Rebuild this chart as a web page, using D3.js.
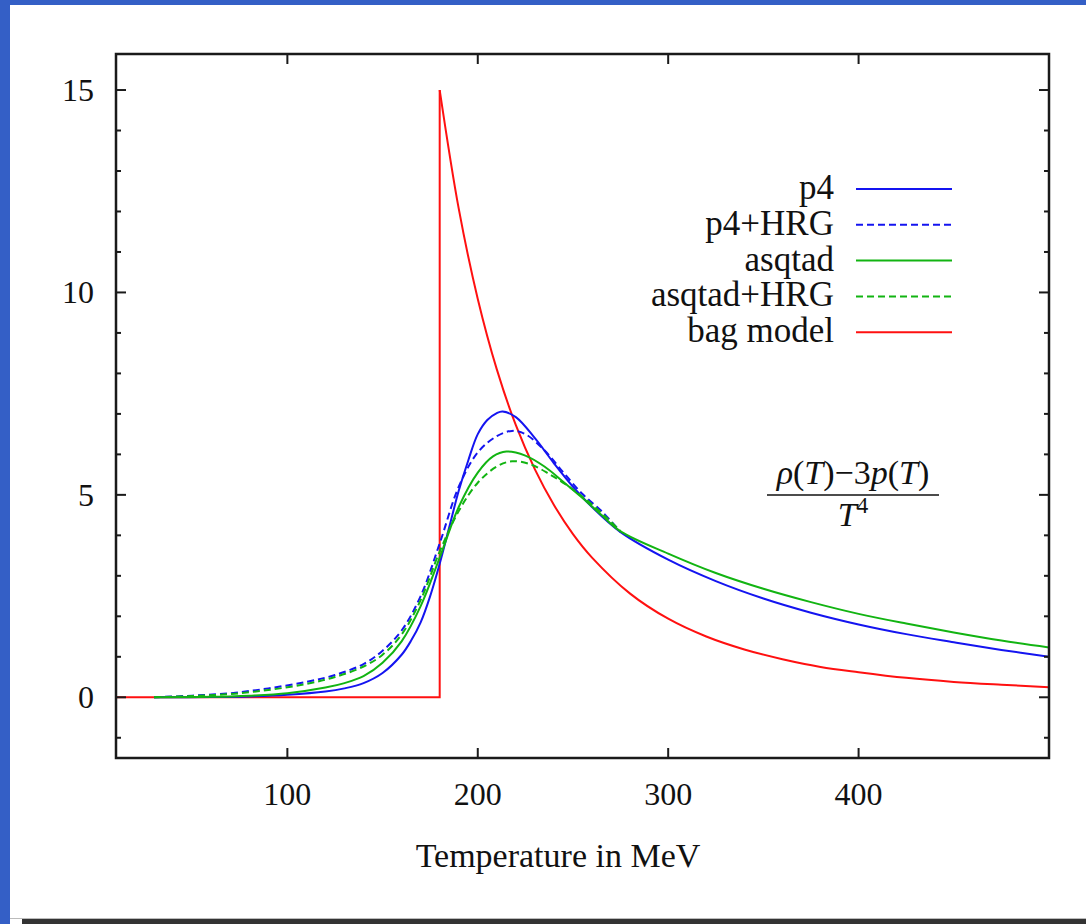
<!DOCTYPE html>
<html>
<head>
<meta charset="utf-8">
<script src="https://cdn.jsdelivr.net/npm/d3@7"></script>
<style>
  body { margin: 0; background: #fff; }
  text { font-family: "Liberation Serif", "DejaVu Serif", serif; fill: #111; }
</style>
</head>
<body>
<svg width="1086" height="924"></svg>
<script>
// temperatures (MeV) and curve values
let tempP4 = [30, 60, 80, 100, 120, 130, 140, 150, 160, 165, 170, 175, 180, 185, 190, 195, 200, 205, 210, 213, 220, 230, 240, 250, 260, 275, 300, 325, 350, 375, 400, 425, 450, 475, 500];
let p4     = [0, 0.005, 0.02, 0.06, 0.14, 0.22, 0.35, 0.6, 1.05, 1.4, 1.85, 2.5, 3.3, 4.2, 5.1, 5.85, 6.5, 6.85, 7.02, 7.06, 6.92, 6.4, 5.78, 5.2, 4.7, 4.08, 3.4, 2.87, 2.44, 2.09, 1.8, 1.56, 1.36, 1.17, 1.0];

let tempP4HRG = [30, 50, 70, 90, 110, 125, 140, 150, 160, 170, 180, 190, 200, 210, 218, 225, 235, 245, 255, 265, 275];
let p4HRG     = [0, 0.04, 0.1, 0.22, 0.38, 0.55, 0.82, 1.15, 1.65, 2.5, 3.8, 5.2, 6.05, 6.45, 6.58, 6.5, 6.1, 5.55, 5.02, 4.6, 4.08];

let tempAsq = [30, 60, 80, 100, 120, 130, 140, 150, 160, 170, 180, 190, 200, 208, 215, 225, 235, 245, 255, 265, 275, 300, 325, 350, 375, 400, 425, 450, 475, 500];
let asqtad  = [0, 0.01, 0.04, 0.1, 0.24, 0.35, 0.52, 0.85, 1.38, 2.25, 3.45, 4.7, 5.55, 5.95, 6.07, 5.97, 5.7, 5.32, 4.92, 4.5, 4.1, 3.55, 3.07, 2.68, 2.35, 2.06, 1.82, 1.6, 1.4, 1.23];

let tempAsqHRG = [30, 50, 70, 90, 110, 125, 140, 150, 160, 170, 180, 190, 200, 210, 218, 228, 238, 248, 258, 268, 275];
let asqtadHRG  = [0, 0.03, 0.08, 0.18, 0.33, 0.5, 0.76, 1.05, 1.55, 2.4, 3.6, 4.6, 5.3, 5.7, 5.83, 5.75, 5.5, 5.2, 4.84, 4.42, 4.1];

let tempBagLow = [10, 180, 180];
let bagLow     = [0, 0, 15];
let tempBag = [180, 190, 200, 210, 220, 230, 240, 250, 260, 280, 300, 320, 340, 360, 380, 400, 425, 450, 475, 500];
let bag     = [15.0, 12.07, 9.84, 8.1, 6.72, 5.63, 4.75, 4.03, 3.45, 2.56, 1.94, 1.5, 1.18, 0.94, 0.75, 0.62, 0.48, 0.38, 0.31, 0.25];

let xTicks = [100, 200, 300, 400];
let yTicks = [0, 5, 10, 15];
let yMinor = d3.range(-1, 16);

let legendNames = ["p4", "p4+HRG", "asqtad", "asqtad+HRG", "bag model"];

let svg = d3.select("svg");

// page frame
svg.append("rect").attr("x", 0).attr("y", 0).attr("width", 1086).attr("height", 924).attr("fill", "#fff");
svg.append("rect").attr("x", 0).attr("y", 0).attr("width", 1086).attr("height", 5).attr("fill", "#345fc6");
svg.append("rect").attr("x", 0).attr("y", 0).attr("width", 10).attr("height", 924).attr("fill", "#345fc6");
svg.append("rect").attr("x", 10).attr("y", 918).attr("width", 1076).attr("height", 1).attr("fill", "#bbb");
svg.append("rect").attr("x", 22).attr("y", 919).attr("width", 1064).attr("height", 5).attr("fill", "#333");

let margin = {left: 116, top: 54, right: 1049, bottom: 758};

let x = d3.scaleLinear().domain([10, 500]).range([margin.left, margin.right]);
let y = d3.scaleLinear().domain([-1.5, 15.89]).range([margin.bottom, margin.top]);

svg.append("clipPath").attr("id", "clip")
  .append("rect")
    .attr("x", margin.left).attr("y", margin.top)
    .attr("width", margin.right - margin.left).attr("height", margin.bottom - margin.top);

let smooth = d3.line().x(d => x(d[0])).y(d => y(d[1])).curve(d3.curveCatmullRom.alpha(0.5));
let straight = d3.line().x(d => x(d[0])).y(d => y(d[1]));

let zip = (a, b) => a.map((t, i) => [t, b[i]]);

let blue = "#1414f0", green = "#12b412", red = "#ff1010";

let series = [
  {pts: zip(tempP4, p4), color: blue, dash: null},
  {pts: zip(tempP4HRG, p4HRG), color: blue, dash: "7,4"},
  {pts: zip(tempAsq, asqtad), color: green, dash: null},
  {pts: zip(tempAsqHRG, asqtadHRG), color: green, dash: "7,4"},
];

let plot = svg.append("g").attr("clip-path", "url(#clip)");

plot.append("path")
    .attr("d", straight(zip(tempBagLow, bagLow)))
    .attr("fill", "none").attr("stroke", red).attr("stroke-width", 2);
plot.append("path")
    .attr("d", smooth(zip(tempBag, bag)))
    .attr("fill", "none").attr("stroke", red).attr("stroke-width", 2);

plot.selectAll(".curve")
  .data(series)
  .enter().append("path")
    .attr("class", "curve")
    .attr("d", d => smooth(d.pts))
    .attr("fill", "none")
    .attr("stroke", d => d.color)
    .attr("stroke-width", 2)
    .attr("stroke-dasharray", d => d.dash);

// axes: inward ticks on all four sides
let axisColor = "#1a1a1a";
let axes = svg.append("g").attr("stroke", axisColor).attr("stroke-width", 2);

xTicks.forEach(t => {
  axes.append("line").attr("x1", x(t)).attr("x2", x(t)).attr("y1", margin.bottom).attr("y2", margin.bottom - 10);
  axes.append("line").attr("x1", x(t)).attr("x2", x(t)).attr("y1", margin.top).attr("y2", margin.top + 10);
});
yMinor.forEach(t => {
  let len = yTicks.includes(t) ? 10 : 5;
  axes.append("line").attr("x1", margin.left).attr("x2", margin.left + len).attr("y1", y(t)).attr("y2", y(t));
  axes.append("line").attr("x1", margin.right).attr("x2", margin.right - len).attr("y1", y(t)).attr("y2", y(t));
});

svg.append("rect")
    .attr("x", margin.left).attr("y", margin.top)
    .attr("width", margin.right - margin.left).attr("height", margin.bottom - margin.top)
    .attr("fill", "none").attr("stroke", axisColor).attr("stroke-width", 2.5);

svg.selectAll(".xlab")
  .data(xTicks)
  .enter().append("text")
    .attr("class", "xlab")
    .attr("x", d => x(d))
    .attr("y", 805)
    .attr("text-anchor", "middle")
    .style("font-size", "32px")
    .text(d => d);

svg.selectAll(".ylab")
  .data(yTicks)
  .enter().append("text")
    .attr("class", "ylab")
    .attr("x", 94)
    .attr("y", d => y(d) + 11)
    .attr("text-anchor", "end")
    .style("font-size", "32px")
    .text(d => d);

svg.append("text")
    .attr("x", 558)
    .attr("y", 867)
    .attr("text-anchor", "middle")
    .style("font-size", "34px")
    .text("Temperature in MeV");

// legend
let legendStyles = [
  {color: blue, dash: null}, {color: blue, dash: "7,4"},
  {color: green, dash: null}, {color: green, dash: "7,4"},
  {color: red, dash: null}
];
let leg = svg.selectAll(".leg")
  .data(legendNames)
  .enter().append("g")
    .attr("class", "leg")
    .attr("transform", (d, i) => "translate(0," + (189 + i * 35.8) + ")");
leg.append("text")
    .attr("x", 834)
    .attr("y", 10)
    .attr("text-anchor", "end")
    .style("font-size", "35px")
    .text(d => d);
leg.append("line")
    .attr("x1", 856).attr("x2", 952)
    .attr("stroke", (d, i) => legendStyles[i].color)
    .attr("stroke-width", 2)
    .attr("stroke-dasharray", (d, i) => legendStyles[i].dash);

// formula label
let f = svg.append("g").style("font-size", "34px");
let num = f.append("text").attr("x", 853).attr("y", 484).attr("text-anchor", "middle");
num.append("tspan").style("font-style", "italic").text("ρ");
num.append("tspan").text("(");
num.append("tspan").style("font-style", "italic").text("T");
num.append("tspan").text(")−3");
num.append("tspan").style("font-style", "italic").text("p");
num.append("tspan").text("(");
num.append("tspan").style("font-style", "italic").text("T");
num.append("tspan").text(")");
f.append("line").attr("x1", 767).attr("x2", 939).attr("y1", 495).attr("y2", 495)
    .attr("stroke", "#111").attr("stroke-width", 1.5);
let den = f.append("text").attr("x", 853).attr("y", 526).attr("text-anchor", "middle");
den.append("tspan").style("font-style", "italic").text("T");
den.append("tspan").attr("dy", -13).style("font-size", "23px").text("4");
</script>
</body>
</html>
